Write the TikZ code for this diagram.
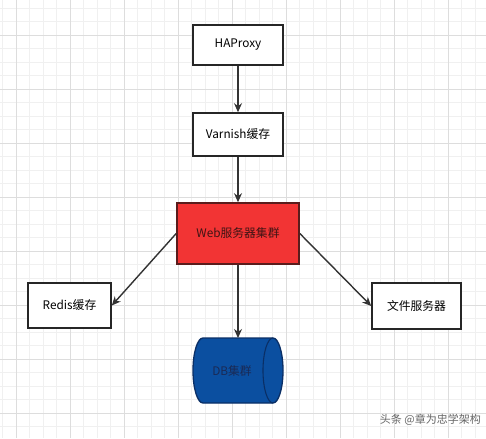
\documentclass[tikz,border=0pt]{standalone}
\usepackage{fontspec}
\setmainfont{Noto Sans CJK SC}
\usetikzlibrary{arrows.meta}
\definecolor{gridminor}{HTML}{F0F0F0}
\definecolor{gridmajor}{HTML}{DDDDDD}
\definecolor{webred}{HTML}{F23434}
\definecolor{webborder}{HTML}{5A1C1C}
\definecolor{dbblue}{HTML}{0B4FA0}
\definecolor{dbborder}{HTML}{0A2F66}
\definecolor{dbtext}{HTML}{1A2A55}
\definecolor{linecol}{HTML}{333333}
\begin{document}
\begin{tikzpicture}[x=1pt,y=-1pt,
  box/.style={draw=black!85,line width=1.6pt,fill=white,inner sep=0pt,font=\fontsize{11.8}{13}\selectfont},
  conn/.style={draw=linecol,line width=1.4pt,-{Stealth[length=9pt,width=8pt]}}]
\useasboundingbox (0,0) rectangle (486,438);
\fill[white] (0,0) rectangle (486,438);
% grid
\foreach \x in {2.5,16,...,486} \draw[gridminor,line width=0.6pt] (\x,0) -- (\x,438);
\foreach \y in {8,21.5,...,438} \draw[gridminor,line width=0.6pt] (0,\y) -- (486,\y);
\foreach \x in {16,70,...,486} \draw[gridmajor,line width=0.7pt] (\x,0) -- (\x,438);
\foreach \y in {35,89,...,438} \draw[gridmajor,line width=0.7pt] (0,\y) -- (486,\y);
% nodes
\node[box,minimum width=90pt,minimum height=40pt] (ha) at (238,45) {HAProxy};
\node[box,minimum width=90pt,minimum height=43pt] (va) at (238,134.5) {Varnish缓存};
\node[box,fill=webred,draw=webborder,text=webborder!70!black,minimum width=122pt,minimum height=61pt] (web) at (238,233.5) {Web服务器集群};
\node[box,minimum width=83pt,minimum height=45pt] (redis) at (69.5,305.5) {Redis缓存};
\node[box,minimum width=89pt,minimum height=46pt] (file) at (416.5,306) {文件服务器};
% cylinder
\coordinate (dbtop) at (238,338);
\draw[draw=dbborder,line width=1.3pt,fill=dbblue] (203,338) -- (273,338) arc[start angle=-90,end angle=90,x radius=10,y radius=32.5] -- (203,403) arc[start angle=90,end angle=270,x radius=10,y radius=32.5] -- cycle;
\draw[draw=dbborder,line width=1.1pt] (273,338) arc[start angle=270,end angle=90,x radius=10,y radius=32.5];
\node[inner sep=0pt,text=dbtext,font=\fontsize{11.8}{13}\selectfont] (db) at (232,371) {DB集群};
% connectors
\draw[conn] (ha.south) -- (va.north);
\draw[conn] (va.south) -- (web.north);
\draw[conn] (web.west) -- (redis.east);
\draw[conn] (web.east) -- (file.west);
\draw[conn] (web.south) -- (dbtop);
% watermark
\node[inner sep=0pt,text=black!60,font=\fontsize{11}{12}\selectfont,anchor=east] (wm) at (481,420) {头条 @章为忠学架构};
\end{tikzpicture}
\end{document}
